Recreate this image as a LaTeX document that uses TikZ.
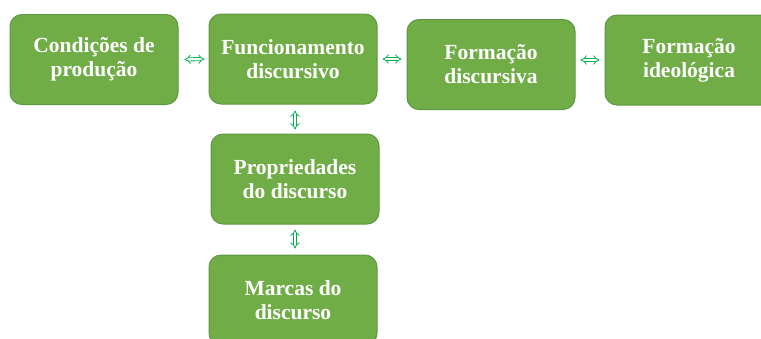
\documentclass[tikz,border=0pt]{standalone}
\usepackage{fontspec}
\setmainfont{Liberation Serif}
\usetikzlibrary{arrows.meta}
\definecolor{boxfill}{HTML}{70AD47}
\definecolor{boxdraw}{HTML}{5E9741}
\definecolor{arrowc}{HTML}{00B050}
\begin{document}
\begin{tikzpicture}[x=1pt,y=-1pt,
  box/.style={draw=boxdraw, fill=boxfill, line width=1pt, rounded corners=12pt,
    minimum width=168pt, minimum height=90pt, text=white,
    font=\fontsize{21.5}{24}\selectfont\bfseries, align=center, inner sep=0pt},
  link/.style={draw=arrowc, double=white, double distance=2.4pt, line width=0.8pt,
    {Implies}-{Implies}, shorten <=5pt, shorten >=5pt}]
\useasboundingbox (0,0) rectangle (761,338);
\node[box] (cond) at (94,59.5) {Condições de\\produção};
\node[box] (func) at (293,59) {Funcionamento\\discursivo};
\node[box] (fdisc) at (491,64.5) {Formação\\discursiva};
\node[box] (fideo) at (689,60) {Formação\\ideológica};
\node[box] (prop) at (295,179) {Propriedades\\do discurso};
\node[box] (marc) at (293,300) {Marcas do\\discurso};
\draw[link, shorten <=6pt, shorten >=4pt] (cond.east) -- (func.west);
\draw[link] (func.east) -- (func.east -| fdisc.west);
\draw[link] (fdisc.east |- fideo.west) -- (fideo.west);
\draw[link, shorten <=6pt, shorten >=4pt] (func.south -| prop.north) -- (prop.north);
\draw[link, shorten <=5pt, shorten >=6pt] (prop.south) -- (prop.south |- marc.north);
\end{tikzpicture}
\end{document}
